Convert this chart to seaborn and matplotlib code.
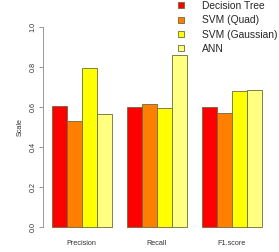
import matplotlib
matplotlib.use("Agg")
import matplotlib.pyplot as plt
import seaborn as sns
import pandas as pd

metrics = ["Precision", "Recall", "F1.score"]
models = ["Decision Tree", "SVM (Quad)", "SVM (Gaussian)", "ANN"]
decision_tree = [0.603, 0.598, 0.601]
svm_quad = [0.527, 0.615, 0.569]
svm_gauss = [0.793, 0.594, 0.680]
ann = [0.565, 0.859, 0.683]
colors = ["#FF0000", "#FF8000", "#FFFF00", "#FFFF80"]

rows = []
for model, vals in zip(models, [decision_tree, svm_quad, svm_gauss, ann]):
    for m, v in zip(metrics, vals):
        rows.append({"metric": m, "model": model, "value": v})
df = pd.DataFrame(rows)

sns.set_style("white")
plt.rcParams["font.family"] = ["Liberation Sans", "DejaVu Sans"]

fig = plt.figure(figsize=(2.79, 2.52), dpi=100)
ax = fig.add_axes([0.155, 0.0663, 0.813, 0.8603])

sns.barplot(data=df, x="metric", y="value", hue="model", order=metrics,
            hue_order=models, palette=colors, saturation=1, width=0.8,
            edgecolor="#6b6b3a", linewidth=0.6, ax=ax)

ax.set_xlim(-0.512, 2.512)
ax.set_ylim(-0.04, 1.04)
ax.set_yticks([0.0, 0.2, 0.4, 0.6, 0.8, 1.0])
ax.set_yticklabels(["0.0", "0.2", "0.4", "0.6", "0.8", "1.0"], rotation=90,
                   va="center", fontsize=5.2, color="#333333")
ax.tick_params(axis="y", length=3, width=0.6, color="#888888", pad=2, left=True)
ax.tick_params(axis="x", length=0, labelsize=5.2, pad=3.5, colors="#333333")
for s in ["top", "right", "bottom"]:
    ax.spines[s].set_visible(False)
ax.spines["left"].set_bounds(0, 1)
ax.spines["left"].set_color("#888888")
ax.spines["left"].set_linewidth(0.6)
ax.set_xlabel("")
ax.set_ylabel("Scale", fontsize=5.2, color="#333333", labelpad=4)

ax.legend(loc="upper left", bbox_to_anchor=(178 / 279, 1 - 1 / 252),
          bbox_transform=fig.transFigure, frameon=False, fontsize=7.4,
          handlelength=0.55, handleheight=0.55, handletextpad=1.8,
          labelspacing=0.42, borderaxespad=0, borderpad=0)

fig.savefig("out.png", dpi=100)
